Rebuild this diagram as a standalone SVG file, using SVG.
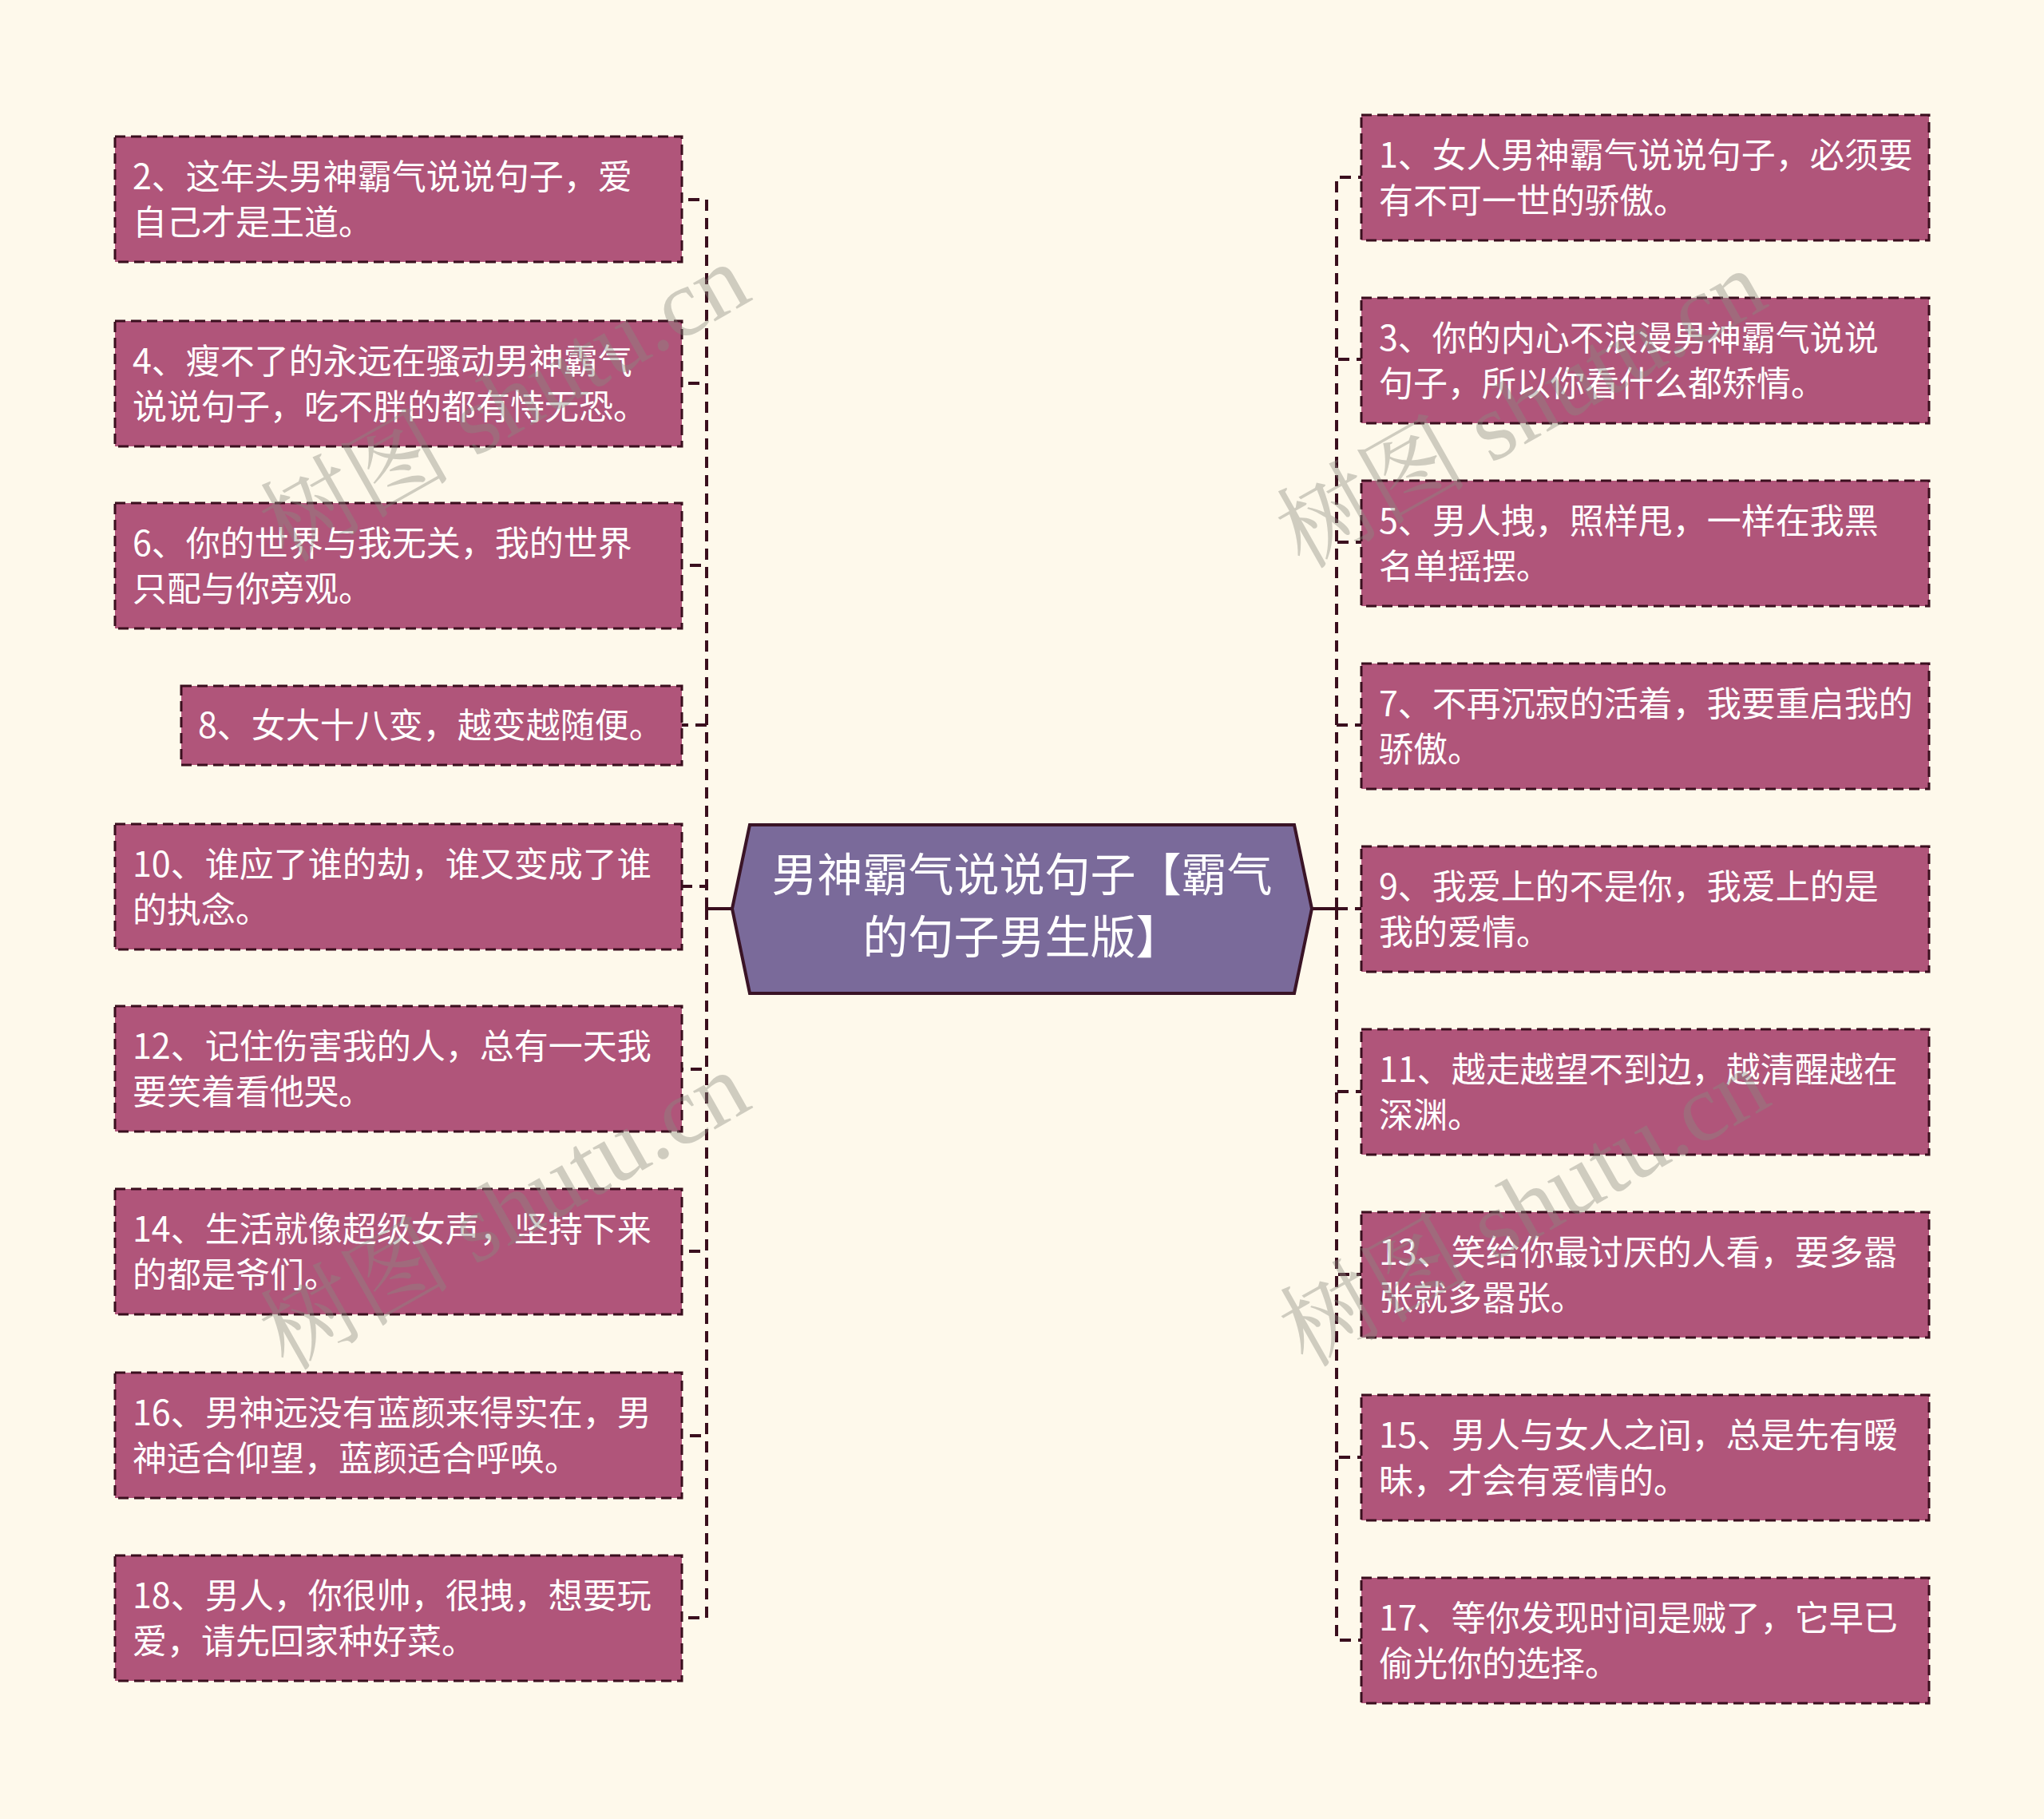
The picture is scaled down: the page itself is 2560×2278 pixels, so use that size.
<svg xmlns="http://www.w3.org/2000/svg" width="2560" height="2278" viewBox="0 0 2560 2278">
<style>
.bg{fill:#fef9eb}
.node rect{fill:#b0557a;stroke:#3a0f1e;stroke-width:3;stroke-dasharray:13 7}
.node text{fill:#ffffff;font-family:"Noto Sans CJK SC","Noto Sans",sans-serif;font-size:43px}
.center polygon{fill:#7a6a9a;stroke:#3a1426;stroke-width:4}
.center text{fill:#ffffff;font-family:"Noto Sans CJK SC","Noto Sans",sans-serif;font-size:57px;text-anchor:middle}
.conn path{fill:none;stroke:#3a0f1e;stroke-width:4;stroke-dasharray:14 9}
.conn .stub{stroke-dasharray:none}
.wm{fill:#8a8a80;opacity:0.4;font-family:"Liberation Serif","Noto Serif CJK SC","Noto Sans CJK SC",serif;font-size:120px;text-anchor:middle}
</style>
<rect class="bg" x="0" y="0" width="2560" height="2278"/>
<g id="connectors" class="conn">
<path class="stub" d="M917,1138 H885"/>
<path class="stub" d="M1643,1138 H1674"/>
<path d="M885,1138 V250 H854"/>
<path d="M885,1138 V480 H854"/>
<path d="M885,1138 V708 H854"/>
<path d="M885,1138 V908 H854"/>
<path d="M885,1138 V1110 H854"/>
<path d="M885,1138 V1339 H854"/>
<path d="M885,1138 V1567 H854"/>
<path d="M885,1138 V1798 H854"/>
<path d="M885,1138 V2026 H854"/>
<path d="M1674,1138 V222 H1705"/>
<path d="M1674,1138 V450 H1705"/>
<path d="M1674,1138 V679 H1705"/>
<path d="M1674,1138 V908 H1705"/>
<path d="M1674,1138 V1138 H1705"/>
<path d="M1674,1138 V1367 H1705"/>
<path d="M1674,1138 V1596 H1705"/>
<path d="M1674,1138 V1825 H1705"/>
<path d="M1674,1138 V2054 H1705"/>
</g>
<g id="center" class="center">
<polygon points="917,1138 939,1033 1621,1033 1643,1138 1621,1244 939,1244"/>
<text x="1280" y="1116">男神霸气说说句子【霸气</text>
<text x="1280" y="1194">的句子男生版】</text>
</g>
<g id="n2" class="node"><rect x="144" y="171" width="710" height="157"/><text x="166" y="237">2、这年头男神霸气说说句子，爱</text><text x="166" y="294">自己才是王道。</text></g>
<g id="n4" class="node"><rect x="144" y="402" width="710" height="157"/><text x="166" y="468">4、瘦不了的永远在骚动男神霸气</text><text x="166" y="525">说说句子，吃不胖的都有恃无恐。</text></g>
<g id="n6" class="node"><rect x="144" y="630" width="710" height="157"/><text x="166" y="696">6、你的世界与我无关，我的世界</text><text x="166" y="753">只配与你旁观。</text></g>
<g id="n8" class="node"><rect x="227" y="859" width="627" height="99"/><text x="248" y="924">8、女大十八变，越变越随便。</text></g>
<g id="n10" class="node"><rect x="144" y="1032" width="710" height="157"/><text x="166" y="1098">10、谁应了谁的劫，谁又变成了谁</text><text x="166" y="1155">的执念。</text></g>
<g id="n12" class="node"><rect x="144" y="1260" width="710" height="157"/><text x="166" y="1326">12、记住伤害我的人，总有一天我</text><text x="166" y="1383">要笑着看他哭。</text></g>
<g id="n14" class="node"><rect x="144" y="1489" width="710" height="157"/><text x="166" y="1555">14、生活就像超级女声，坚持下来</text><text x="166" y="1612">的都是爷们。</text></g>
<g id="n16" class="node"><rect x="144" y="1719" width="710" height="157"/><text x="166" y="1785">16、男神远没有蓝颜来得实在，男</text><text x="166" y="1842">神适合仰望，蓝颜适合呼唤。</text></g>
<g id="n18" class="node"><rect x="144" y="1948" width="710" height="157"/><text x="166" y="2014">18、男人，你很帅，很拽，想要玩</text><text x="166" y="2071">爱，请先回家种好菜。</text></g>
<g id="n1" class="node"><rect x="1705" y="144" width="711" height="157"/><text x="1727" y="210">1、女人男神霸气说说句子，必须要</text><text x="1727" y="267">有不可一世的骄傲。</text></g>
<g id="n3" class="node"><rect x="1705" y="373" width="711" height="157"/><text x="1727" y="439">3、你的内心不浪漫男神霸气说说</text><text x="1727" y="496">句子，所以你看什么都矫情。</text></g>
<g id="n5" class="node"><rect x="1705" y="602" width="711" height="157"/><text x="1727" y="668">5、男人拽，照样甩，一样在我黑</text><text x="1727" y="725">名单摇摆。</text></g>
<g id="n7" class="node"><rect x="1705" y="831" width="711" height="157"/><text x="1727" y="897">7、不再沉寂的活着，我要重启我的</text><text x="1727" y="954">骄傲。</text></g>
<g id="n9" class="node"><rect x="1705" y="1060" width="711" height="157"/><text x="1727" y="1126">9、我爱上的不是你，我爱上的是</text><text x="1727" y="1183">我的爱情。</text></g>
<g id="n11" class="node"><rect x="1705" y="1289" width="711" height="157"/><text x="1727" y="1355">11、越走越望不到边，越清醒越在</text><text x="1727" y="1412">深渊。</text></g>
<g id="n13" class="node"><rect x="1705" y="1518" width="711" height="157"/><text x="1727" y="1584">13、笑给你最讨厌的人看，要多嚣</text><text x="1727" y="1641">张就多嚣张。</text></g>
<g id="n15" class="node"><rect x="1705" y="1747" width="711" height="157"/><text x="1727" y="1813">15、男人与女人之间，总是先有暧</text><text x="1727" y="1870">昧，才会有爱情的。</text></g>
<g id="n17" class="node"><rect x="1705" y="1976" width="711" height="157"/><text x="1727" y="2042">17、等你发现时间是贼了，它早已</text><text x="1727" y="2099">偷光你的选择。</text></g>
<g id="watermarks">
<text class="wm" transform="translate(652,540) rotate(-29.5)">树图 shutu.cn</text>
<text class="wm" transform="translate(652,1552) rotate(-29.5)">树图 shutu.cn</text>
<text class="wm" transform="translate(1925,548) rotate(-29.5)">树图 shutu.cn</text>
<text class="wm" transform="translate(1929,1548) rotate(-29.5)">树图 shutu.cn</text>
</g>
</svg>
